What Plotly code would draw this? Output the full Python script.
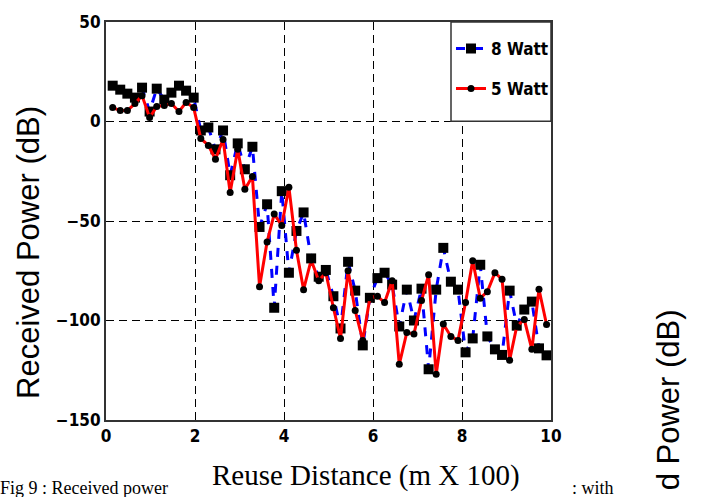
import plotly.graph_objects as go

# Reuse distance positions (m x 100)
distance = [0.15, 0.32, 0.48, 0.65, 0.81, 0.98, 1.14, 1.31, 1.47, 1.64,
            1.80, 1.97, 2.13, 2.30, 2.46, 2.63, 2.79, 2.96, 3.12, 3.29,
            3.45, 3.62, 3.78, 3.95, 4.11, 4.28, 4.44, 4.61, 4.78, 4.94,
            5.11, 5.27, 5.44, 5.60, 5.77, 5.93, 6.10, 6.26, 6.43, 6.59,
            6.76, 6.92, 7.09, 7.25, 7.42, 7.58, 7.75, 7.91, 8.08, 8.24,
            8.41, 8.57, 8.74, 8.90, 9.07, 9.23, 9.40, 9.57, 9.73, 9.90]

# Received power (dB), 8 Watt
power_8w = [18, 16, 14, 12, 17, 5, 16.5, 11, 14.5, 18,
            15.5, 12, -4.5, -3, -14, -4.5, -27, -11, -24, -12.7,
            -53, -41.6, -93.6, -35, -76, -55, -45.7, -68.8, -78, -74.6,
            -87.8, -104, -70.5, -85, -112.5, -88.6, -78.7, -76, -82, -103,
            -84.5, -100, -84, -124.5, -84.5, -63.5, -80.5, -84.5, -116, -109,
            -72, -108, -114.5, -117.3, -85, -102.6, -94.5, -90.5, -114, -117.5]

# Received power (dB), 5 Watt
power_5w = [7, 5.5, 5.5, 9, 13, 2, 7.5, 8, 9, 5,
            9.6, 7, -8.5, -12, -19, -9, -35.7, -14, -34, -27.6,
            -83, -60.5, -46.5, -52.3, -33, -64.7, -84.5, -69.6, -80, -76,
            -93.6, -109, -75, -95, -110, -88.6, -87.8, -91, -80, -122,
            -106, -106.8, -90, -77, -127, -101.8, -108, -110, -91, -70,
            -88.8, -85.5, -76, -79.3, -120, -103, -99.5, -114.5, -84.3, -102]

x_ticks = [0, 2, 4, 6, 8, 10]
y_ticks = [-150, -100, -50, 0, 50]

NARROW = "DejaVu Sans Condensed, Liberation Sans Narrow, Arial Narrow, sans-serif"
SANS = "Liberation Sans, Arial, sans-serif"
SERIF = "Liberation Serif, Times New Roman, serif"

fig = go.Figure()
fig.add_trace(go.Scatter(
    x=distance, y=power_8w, mode="lines+markers", name="8 Watt",
    legendgroup="a",
    line=dict(color="#0000ff", width=3, dash="dash"),
    marker=dict(symbol="square", size=10, color="black"),
))
fig.add_trace(go.Scatter(
    x=distance, y=power_5w, mode="lines+markers", name="5 Watt",
    legendgroup="b",
    line=dict(color="#ff0000", width=3),
    marker=dict(symbol="circle", size=7, color="black"),
))

L, R, T, B = 106, 151, 15, 77
PW, PH = 702 - L - R, 497 - T - B


def px(xp):
    return (xp - L) / PW


def py(yp):
    return (497 - B - yp) / PH


axis_common = dict(
    showgrid=True, gridcolor="black", gridwidth=1.2, griddash="8px,5px",
    showline=True, linecolor="#333333", linewidth=2, mirror=True,
    zeroline=False, ticks="",
    tickfont=dict(family=NARROW, size=17, color="black", weight="bold"),
)

fig.update_layout(
    width=702, height=497,
    margin=dict(l=L, r=R, t=T, b=B),
    paper_bgcolor="white", plot_bgcolor="white",
    showlegend=True,
    legend=dict(
        x=px(451), xanchor="left", y=py(24), yanchor="top",
        bgcolor="rgba(0,0,0,0)", borderwidth=0,
        font=dict(family=NARROW, size=17, color="black", weight="bold"),
        tracegroupgap=15, traceorder="grouped",
    ),
    xaxis=dict(range=[0, 10], tickvals=x_ticks, **axis_common),
    yaxis=dict(range=[-150, 50], tickvals=y_ticks, **axis_common),
    shapes=[
        dict(type="rect", xref="paper", yref="paper",
             x0=px(451), x1=1, y0=py(116), y1=1,
             fillcolor="white", line=dict(color="#333333", width=1.5),
             layer="above"),
    ],
    annotations=[
        dict(text="Received Power (dB)", textangle=-90, showarrow=False,
             xref="paper", yref="paper", x=px(29), y=py(250),
             xanchor="center", yanchor="middle",
             font=dict(family=SANS, size=31, color="black")),
        dict(text="Fig 9 : Received power", showarrow=False,
             xref="paper", yref="paper", x=px(-2), y=py(489),
             xanchor="left", yanchor="middle",
             font=dict(family=SERIF, size=18, color="black")),
        dict(text=": with", showarrow=False,
             xref="paper", yref="paper", x=px(570), y=py(489),
             xanchor="left", yanchor="middle",
             font=dict(family=SERIF, size=18, color="black")),
        dict(text="Reuse Distance (m X 100)", showarrow=False,
             xref="paper", yref="paper", x=px(366), y=py(476),
             xanchor="center", yanchor="middle", bgcolor="white",
             font=dict(family=SERIF, size=29, color="black")),
        dict(text="d Power (dB)", textangle=-90, showarrow=False,
             xref="paper", yref="paper", x=px(668), y=py(400),
             xanchor="center", yanchor="middle",
             font=dict(family=SANS, size=31, color="black")),
    ],
)

fig.write_html("out.html")
